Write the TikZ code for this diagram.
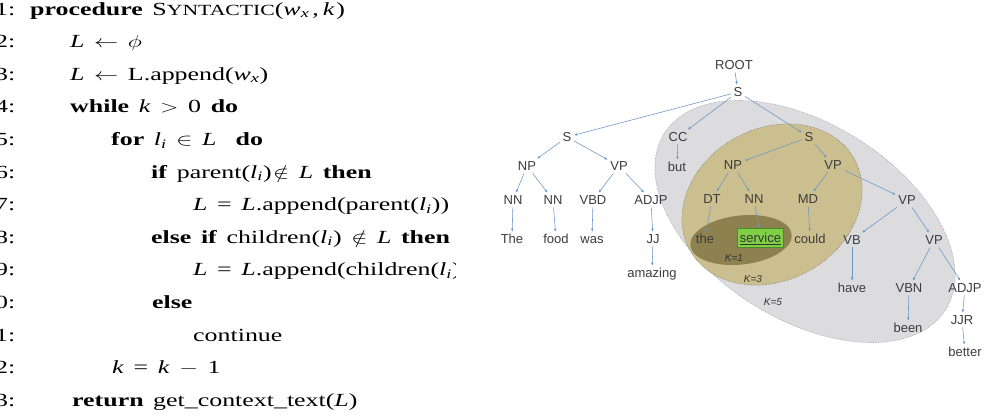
\documentclass[tikz,border=0pt]{standalone}
\usepackage{fontspec}
\setmainfont{Liberation Serif}
\setsansfont{Liberation Sans}
\usepackage{graphicx}
\usetikzlibrary{arrows.meta}
\definecolor{graybg}{RGB}{220,220,222}
\definecolor{tanbg}{RGB}{204,191,143}
\definecolor{darkbg}{RGB}{141,129,80}
\definecolor{svcgreen}{RGB}{128,208,70}
\definecolor{svcborder}{RGB}{70,140,40}
\definecolor{edgeblue}{RGB}{105,150,200}
\definecolor{treegray}{RGB}{60,60,60}
\newcommand{\mi}[1]{\textit{#1}}
\newcommand{\sx}[1]{\scalebox{1.4}[1]{\spaceskip=0.37em plus 0.1em\relax #1}}
\newcommand{\fsc}[1]{{\fontsize{15.5}{18}\selectfont #1}}
\begin{document}
\begin{tikzpicture}[x=1pt,y=-1pt,
  algl/.style={anchor=base west, inner sep=0pt, font=\fontsize{18.5}{22}\selectfont},
  algn/.style={anchor=base east, inner sep=0pt, font=\fontsize{18.5}{22}\selectfont},
  tn/.style={font=\sffamily\fontsize{13}{15}\selectfont, text=treegray, inner sep=2.5pt, text height=9.4pt, text depth=0pt},
  edge/.style={draw=edgeblue, line width=0.55pt, -{Latex[length=3pt,width=2.6pt]}},
  klab/.style={font=\sffamily\itshape\fontsize{10}{12}\selectfont, text=black!80, inner sep=0pt}]
\useasboundingbox[fill=white] (0,0) rectangle (993,416);

% ---------- algorithm ----------
\begin{scope}
\clip (-30,-10) rectangle (455,430);
\foreach \i in {1,...,13}
  \node[algn] (num\i) at (15.5,{15+32.6*(\i-1)}) {\sx{\i:}};
\node[algl] (a1) at (30,15) {\sx{\textbf{procedure} S\fsc{YNTACTIC}(\mi{w}\textsubscript{\mi{x}}\kern2pt,\kern3pt\mi{k}\kern1pt)}};
\node[algl] (a2) at (70,47.6) {\sx{\mi{L} $\leftarrow$ $\phi$}};
\node[algl] (a3) at (70,80.2) {\sx{\mi{L} $\leftarrow$ L.append(\mi{w}\textsubscript{\mi{x}})}};
\node[algl] (a4) at (70,112.8) {\sx{\textbf{while} \mi{k} $>$ 0 \textbf{do}}};
\node[algl] (a5) at (111,145.4) {\sx{\textbf{for} \mi{l}\textsubscript{\mi{i}} $\in$ \mi{L} \ \textbf{do}}};
\node[algl] (a6) at (151,178) {\sx{\textbf{if} parent(\mi{l}\textsubscript{\mi{i}})\kern1pt$\notin$ \mi{L} \textbf{then}}};
\node[algl] (a7) at (193,210.6) {\sx{\mi{L} = \mi{L}.append(parent(\mi{l}\textsubscript{\mi{i}}))}};
\node[algl] (a8) at (151,243.2) {\sx{\textbf{else if} children(\mi{l}\textsubscript{\mi{i}}) $\notin$ \mi{L} \textbf{then}}};
\node[algl] (a9) at (193,275.8) {\sx{\mi{L} = \mi{L}.append(children(\mi{l}\textsubscript{\mi{i}}))}};
\node[algl] (a10) at (152,308.4) {\sx{\textbf{else}}};
\node[algl] (a11) at (193,341) {\sx{continue}};
\node[algl] (a12) at (112,373.6) {\sx{\mi{k} = \mi{k} $-$ 1}};
\node[algl] (a13) at (72,406.2) {\sx{\textbf{return} get\_context\_text(\mi{L})}};
\end{scope}

% ---------- context regions ----------
\filldraw[fill=graybg, draw=gray!75, densely dotted, line width=0.6pt, rotate around={-32:(805,221.5)}]
  (805,221.5) ellipse [x radius=166pt, y radius=98pt];
\filldraw[fill=tanbg, draw=gray!80!black, densely dotted, line width=0.5pt, rotate around={29:(772,204.5)}]
  (772,204.5) ellipse [x radius=94pt, y radius=76pt];
\fill[darkbg, rotate around={6.4:(741,240)}]
  (741,240) ellipse [x radius=51pt, y radius=24.5pt];

% ---------- tree nodes ----------
\node[tn] (root) at (734,65) {ROOT};
\node[tn] (s0) at (738,92) {S};
\node[tn] (s1) at (567,137) {S};
\node[tn] (cc) at (678,137) {CC};
\node[tn] (s2) at (809,137) {S};
\node[tn] (np1) at (527,166) {NP};
\node[tn] (vp1) at (619,166) {VP};
\node[tn] (but) at (677,167) {but};
\node[tn] (np2) at (733,165) {NP};
\node[tn] (vp2) at (833,165) {VP};
\node[tn] (nn1) at (513,200) {NN};
\node[tn] (nn2) at (553,200) {NN};
\node[tn] (vbd) at (593,200) {VBD};
\node[tn] (adjp1) at (651,200) {ADJP};
\node[tn] (dt) at (712,199) {DT};
\node[tn] (nn3) at (754,199) {NN};
\node[tn] (md) at (808,199) {MD};
\node[tn] (vp3) at (907,200) {VP};
\node[tn] (wthe) at (512,239) {The};
\node[tn] (wfood) at (556,239) {food};
\node[tn] (wwas) at (592,239) {was};
\node[tn] (jj) at (653,239) {JJ};
\node[tn] (wamazing) at (652,273) {amazing};
\node[tn] (wthe2) at (705,239) {the};
\node[tn, fill=svcgreen, draw=svcborder, line width=0.6pt, minimum width=46pt, minimum height=19pt, inner sep=1pt, text=black!80] (wservice) at (760.5,237.5) {\underline{service}};
\node[tn] (wcould) at (810,239) {could};
\node[tn] (vb) at (852,240) {VB};
\node[tn] (vp4) at (934,240) {VP};
\node[tn] (whave) at (852,288) {have};
\node[tn] (vbn) at (909,288) {VBN};
\node[tn] (adjp2) at (965,288) {ADJP};
\node[tn] (wbeen) at (908,328) {been};
\node[tn] (jjr) at (962,320) {JJR};
\node[tn] (wbetter) at (965,352) {better};

\node[klab] (k1) at (734,258) {K=1};
\node[klab] (k3) at (753,279) {K=3};
\node[klab] (k5) at (773,302) {K=5};

% ---------- tree edges ----------
\foreach \p/\c in {root/s0, s0/s1, s0/cc, s0/s2, s1/np1, s1/vp1, np1/nn1, np1/nn2,
  vp1/vbd, vp1/adjp1, nn1/wthe, nn2/wfood, vbd/wwas, adjp1/jj, jj/wamazing, cc/but,
  s2/np2, s2/vp2, np2/dt, np2/nn3, dt/wthe2, nn3/wservice, vp2/md, vp2/vp3, md/wcould,
  vp3/vb, vp3/vp4, vb/whave, vp4/vbn, vp4/adjp2, vbn/wbeen, adjp2/jjr, jjr/wbetter}
  \draw[edge] (\p) -- (\c);
\end{tikzpicture}
\end{document}
